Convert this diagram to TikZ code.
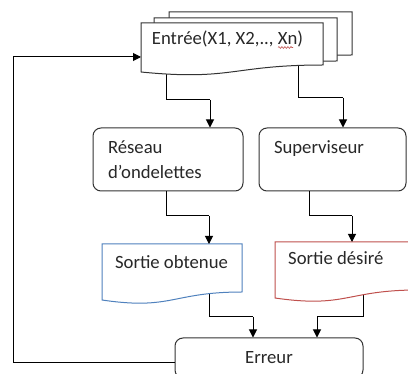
\documentclass[tikz,border=0pt]{standalone}
\usepackage{fontspec}
\setmainfont{Carlito}
\usetikzlibrary{arrows.meta,decorations.pathmorphing}
\definecolor{docblue}{RGB}{79,129,189}
\definecolor{docred}{RGB}{192,80,77}
\definecolor{txt}{RGB}{40,40,40}
\begin{document}
\begin{tikzpicture}[x=1pt,y=-1pt,
  conn/.style={line width=1pt, black},
  arr/.style={conn, -{Triangle[length=8pt,width=8pt]}},
  rbox/.style={draw=black!80, line width=1pt, rounded corners=8pt, fill=white, text=txt,
    font=\fontsize{18.7}{25}\selectfont, align=left},
  doc/.style={draw=black!80, line width=1pt, fill=white},
  lbl/.style={text=txt, font=\fontsize{18.7}{25}\selectfont, inner sep=0pt}]
\useasboundingbox (0,0) rectangle (408,374);
\clip (0,0) rectangle (408,374);
\fill[white] (0,0) rectangle (408,374);

% boxes
\node[rbox, minimum width=150pt, minimum height=63pt, text width=120pt, inner xsep=15pt] (reseau) at (168,159.5) {Réseau\\d’ondelettes};
\node[rbox, minimum width=147pt, minimum height=63pt, text width=117pt, inner xsep=15pt] (superv) at (332.5,159.5) {Superviseur\\\mbox{}};
\node[rbox, minimum width=188pt, minimum height=40pt, align=center] (erreur) at (269,358) {Erreur};

% connection points
\coordinate (e1) at (166,70);
\coordinate (e2) at (298,62);
\coordinate (k1) at (210,100);
\coordinate (k2) at (343,98);
\coordinate (r1) at (166.5,191);
\coordinate (s1) at (309,191);
\coordinate (k3) at (209,216);
\coordinate (k4) at (352,216);
\coordinate (o1) at (209,294);
\coordinate (d1) at (363,286);
\coordinate (k5) at (253,317);
\coordinate (k6) at (317,317);
\coordinate (fbl) at (13,363);
\coordinate (fbt) at (13,57);
\coordinate (inL) at (141,57);
\coordinate (obtTop) at (209,244);
\coordinate (desTop) at (352,242);

% connectors from documents (drawn beneath them)
\draw[conn] (e1) |- (k1);
\draw[arr] (k1) -- (k1 |- reseau.north);
\draw[conn] (e2) |- (k2);
\draw[arr] (k2) -- (k2 |- superv.north);
\draw[conn] (o1) |- (k5);
\draw[arr] (k5) -- (k5 |- erreur.north);
\draw[conn] (d1) |- (k6);
\draw[arr] (k6) -- (k6 |- erreur.north);

% input documents (stack)
\path[doc] (169,12) -- (352,12) -- (352,55) .. controls (260.5,55) and (260.5,71.4) .. (169,62) -- cycle;
\path[doc] (154,18) -- (337,18) -- (337,61) .. controls (245.5,61) and (245.5,77.4) .. (154,68) -- cycle;
\path[doc] (141,23) -- (323,23) -- (323,65) .. controls (232,65) and (232,81) .. (141,72) -- cycle;
\node[lbl] (entree) at (227.5,39) {Entrée(X1, X2,.., Xn)};
\draw[docred, line width=0.6pt, decorate, decoration={snake, amplitude=0.9pt, segment length=3pt}] (278,47.5) -- (293,47.5);

% output documents
\path[doc, draw=docblue] (102,244) -- (242,244) -- (242,292) .. controls (172,292) and (172,310.4) .. (102,300) -- cycle;
\node[lbl] (obtenue) at (171.5,262) {Sortie obtenue};
\path[doc, draw=docred] (275,242) -- (418,242) -- (418,290) .. controls (346.5,290) and (346.5,308.4) .. (275,298) -- cycle;
\node[lbl, anchor=west] (desire) at (288,258) {Sortie désiré};

% connectors into documents
\draw[conn] (r1) |- (k3);
\draw[arr] (k3) -- (obtTop);
\draw[conn] (s1) |- (k4);
\draw[arr] (k4) -- (desTop);

% feedback loop
\draw[arr] (erreur.west |- fbl) -- (fbl) -- (fbt) -- (inL);
\end{tikzpicture}
\end{document}
